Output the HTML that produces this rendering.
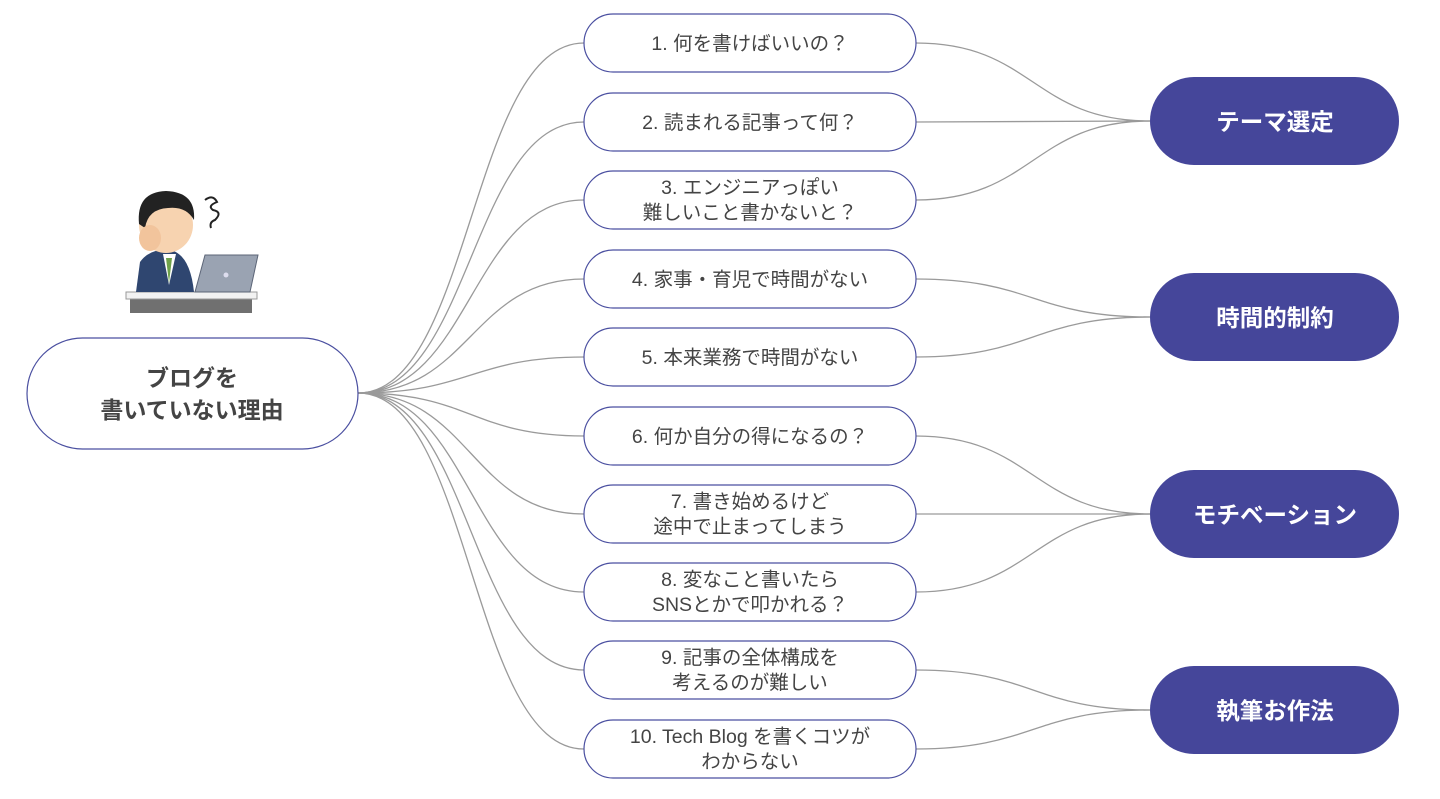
<!DOCTYPE html>
<html><head><meta charset="utf-8"><style>
html,body{margin:0;padding:0;background:#fff;}
svg text{font-family:"Liberation Sans","Noto Sans CJK JP",sans-serif;}
</style></head><body>
<svg width="1440" height="794" viewBox="0 0 1440 794" xmlns="http://www.w3.org/2000/svg">
<g fill="none" stroke="#9a9a9a" stroke-width="1.3">
<path d="M358,393 C471,393 471,43 584,43"/>
<path d="M358,393 C471,393 471,122 584,122"/>
<path d="M358,393 C471,393 471,200 584,200"/>
<path d="M358,393 C471,393 471,279 584,279"/>
<path d="M358,393 C471,393 471,357 584,357"/>
<path d="M358,393 C471,393 471,436 584,436"/>
<path d="M358,393 C471,393 471,514 584,514"/>
<path d="M358,393 C471,393 471,592 584,592"/>
<path d="M358,393 C471,393 471,670 584,670"/>
<path d="M358,393 C471,393 471,749 584,749"/>
<path d="M916,43 C1033,43 1033,121 1150,121"/>
<path d="M916,122 L1150,121"/>
<path d="M916,200 C1033,200 1033,121 1150,121"/>
<path d="M916,279 C1033,279 1033,317 1150,317"/>
<path d="M916,357 C1033,357 1033,317 1150,317"/>
<path d="M916,436 C1033,436 1033,514 1150,514"/>
<path d="M916,514 L1150,514"/>
<path d="M916,592 C1033,592 1033,514 1150,514"/>
<path d="M916,670 C1033,670 1033,710 1150,710"/>
<path d="M916,749 C1033,749 1033,710 1150,710"/>
</g>
<!-- illustration -->
<g>
<rect x="130" y="297" width="122" height="16" fill="#707070"/>
<rect x="126" y="292" width="131" height="7" fill="#f2f2f2" stroke="#999"/>
<path d="M136,292 L140,262 Q150,248 170,250 Q190,254 194,292 Z" fill="#2f4670"/>
<path d="M163,254 L169,285 L176,254 Z" fill="#fff"/>
<path d="M166,258 L169,283 L172,258 Z" fill="#6fa24a"/>
<ellipse cx="166" cy="225" rx="27" ry="28" fill="#f7d3b0"/>
<path d="M139,224 Q136,192 166,191 Q196,192 194,220 Q186,206 168,208 Q148,209 145,228 Z" fill="#222"/>
<ellipse cx="150" cy="238" rx="11" ry="13" fill="#f2c49c"/>
<path d="M195,292 L205,255 L258,255 L250,292 Z" fill="#9aa3b2" stroke="#5c6577"/>
<circle cx="226" cy="275" r="2.5" fill="#dde"/>
<path d="M205,200 q8,-6 12,2 q-10,4 -4,8 q10,2 2,10 q-6,2 -4,8" fill="none" stroke="#222" stroke-width="2"/>
</g>
<!-- root -->
<rect x="27" y="338" width="331" height="111" rx="55.5" fill="#fff" stroke="#4a4fa0" stroke-width="1.2"/>
<text x="192" y="386" text-anchor="middle" font-size="23" font-weight="bold" fill="#444">ブログを</text>
<text x="192" y="418" text-anchor="middle" font-size="23" font-weight="bold" fill="#444">書いていない理由</text>
<!-- middle nodes -->
<g fill="#fff" stroke="#4a4fa0" stroke-width="1.2">
<rect x="584" y="14" width="332" height="58" rx="29"/>
<rect x="584" y="93" width="332" height="58" rx="29"/>
<rect x="584" y="171" width="332" height="58" rx="29"/>
<rect x="584" y="250" width="332" height="58" rx="29"/>
<rect x="584" y="328" width="332" height="58" rx="29"/>
<rect x="584" y="407" width="332" height="58" rx="29"/>
<rect x="584" y="485" width="332" height="58" rx="29"/>
<rect x="584" y="563" width="332" height="58" rx="29"/>
<rect x="584" y="641" width="332" height="58" rx="29"/>
<rect x="584" y="720" width="332" height="58" rx="29"/>
</g>
<g font-size="19.5" fill="#444" text-anchor="middle">
<text x="750" y="50">1. 何を書けばいいの？</text>
<text x="750" y="129">2. 読まれる記事って何？</text>
<text x="750" y="194">3. エンジニアっぽい</text>
<text x="750" y="219">難しいこと書かないと？</text>
<text x="750" y="286">4. 家事・育児で時間がない</text>
<text x="750" y="364">5. 本来業務で時間がない</text>
<text x="750" y="443">6. 何か自分の得になるの？</text>
<text x="750" y="508">7. 書き始めるけど</text>
<text x="750" y="533">途中で止まってしまう</text>
<text x="750" y="586">8. 変なこと書いたら</text>
<text x="750" y="611">SNSとかで叩かれる？</text>
<text x="750" y="664">9. 記事の全体構成を</text>
<text x="750" y="689">考えるのが難しい</text>
<text x="750" y="743">10. Tech Blog を書くコツが</text>
<text x="750" y="768">わからない</text>
</g>
<!-- right nodes -->
<g fill="#45469a">
<rect x="1150" y="77" width="249" height="88" rx="44"/>
<rect x="1150" y="273" width="249" height="88" rx="44"/>
<rect x="1150" y="470" width="249" height="88" rx="44"/>
<rect x="1150" y="666" width="249" height="88" rx="44"/>
</g>
<g font-size="23.5" font-weight="bold" fill="#fff" text-anchor="middle">
<text x="1275" y="130">テーマ選定</text>
<text x="1275" y="326">時間的制約</text>
<text x="1275" y="523">モチベーション</text>
<text x="1275" y="719">執筆お作法</text>
</g>
</svg>
</body></html>
